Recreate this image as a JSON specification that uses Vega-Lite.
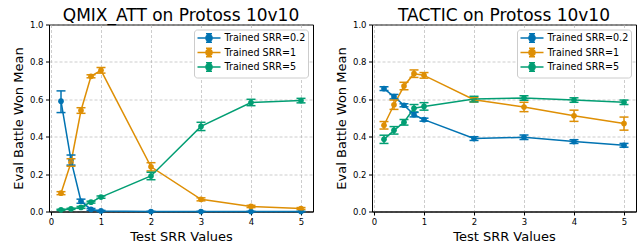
{
  "$schema": "https://vega.github.io/schema/vega-lite/v6.json",
  "padding": {"left": 11, "top": 6.5, "right": 5, "bottom": 0},
  "config": {
    "font": "DejaVu Sans",
    "view": {"stroke": "black", "strokeWidth": 1},
    "concat": {"spacing": 20},
    "axis": {
      "labelFont": "DejaVu Sans", "labelFontSize": 8.5, "labelColor": "black",
      "titleFont": "DejaVu Sans", "titleFontSize": 13, "titleFontWeight": "normal", "titleColor": "black",
      "tickColor": "black", "tickSize": 3.5, "labelPadding": 2.5, "labelOverlap": false, "labelFlush": false,
      "domainColor": "black", "domainWidth": 1,
      "grid": true, "gridColor": "#b0b0b0", "gridDash": [3, 2], "gridOpacity": 0.8, "gridWidth": 0.8
    },
    "axisX": {"titlePadding": 4},
    "axisY": {"titlePadding": 4},
    "title": {"font": "DejaVu Sans", "fontSize": 17, "fontWeight": "normal", "color": "black", "offset": -4.5, "anchor": "middle"},
    "legend": {
      "orient": "top-right", "offset": 5, "labelFont": "DejaVu Sans", "labelFontSize": 9.6, "labelColor": "black",
      "fillColor": "white", "strokeColor": "#cccccc", "cornerRadius": 3, "padding": 2.5,
      "symbolType": "M-1,0L3.6,0M1.3,-0.84L1.3,0.84M0.7,-0.84L1.9,-0.84M0.7,0.84L1.9,0.84M1.9,0A0.6,0.6 0 1,1 0.7,0A0.6,0.6 0 1,1 1.9,0Z",
      "symbolSize": 100, "symbolStrokeWidth": 1.5, "rowPadding": -1.5, "labelOffset": 16
    }
  },
  "datasets": {
    "d": [
      {"model": "QMIX_ATT", "series": "Trained SRR=0.2", "x": 0.2, "m": 0.59, "lo": 0.529, "hi": 0.645},
      {"model": "QMIX_ATT", "series": "Trained SRR=0.2", "x": 0.4, "m": 0.275, "lo": 0.248, "hi": 0.302},
      {"model": "QMIX_ATT", "series": "Trained SRR=0.2", "x": 0.6, "m": 0.055, "lo": 0.044, "hi": 0.066},
      {"model": "QMIX_ATT", "series": "Trained SRR=0.2", "x": 0.8, "m": 0.011, "lo": 0.006, "hi": 0.016},
      {"model": "QMIX_ATT", "series": "Trained SRR=0.2", "x": 1, "m": 0.003, "lo": 0.0, "hi": 0.006},
      {"model": "QMIX_ATT", "series": "Trained SRR=0.2", "x": 2, "m": 0.0, "lo": 0.0, "hi": 0.0},
      {"model": "QMIX_ATT", "series": "Trained SRR=0.2", "x": 3, "m": 0.0, "lo": 0.0, "hi": 0.0},
      {"model": "QMIX_ATT", "series": "Trained SRR=0.2", "x": 4, "m": 0.0, "lo": 0.0, "hi": 0.0},
      {"model": "QMIX_ATT", "series": "Trained SRR=0.2", "x": 5, "m": 0.0, "lo": 0.0, "hi": 0.0},
      {"model": "QMIX_ATT", "series": "Trained SRR=1", "x": 0.2, "m": 0.098, "lo": 0.09, "hi": 0.106},
      {"model": "QMIX_ATT", "series": "Trained SRR=1", "x": 0.4, "m": 0.262, "lo": 0.242, "hi": 0.282},
      {"model": "QMIX_ATT", "series": "Trained SRR=1", "x": 0.6, "m": 0.54, "lo": 0.525, "hi": 0.555},
      {"model": "QMIX_ATT", "series": "Trained SRR=1", "x": 0.8, "m": 0.723, "lo": 0.715, "hi": 0.731},
      {"model": "QMIX_ATT", "series": "Trained SRR=1", "x": 1, "m": 0.755, "lo": 0.74, "hi": 0.77},
      {"model": "QMIX_ATT", "series": "Trained SRR=1", "x": 2, "m": 0.239, "lo": 0.217, "hi": 0.261},
      {"model": "QMIX_ATT", "series": "Trained SRR=1", "x": 3, "m": 0.065, "lo": 0.057, "hi": 0.073},
      {"model": "QMIX_ATT", "series": "Trained SRR=1", "x": 4, "m": 0.027, "lo": 0.021, "hi": 0.033},
      {"model": "QMIX_ATT", "series": "Trained SRR=1", "x": 5, "m": 0.016, "lo": 0.011, "hi": 0.021},
      {"model": "QMIX_ATT", "series": "Trained SRR=5", "x": 0.2, "m": 0.009, "lo": 0.006, "hi": 0.012},
      {"model": "QMIX_ATT", "series": "Trained SRR=5", "x": 0.4, "m": 0.014, "lo": 0.011, "hi": 0.017},
      {"model": "QMIX_ATT", "series": "Trained SRR=5", "x": 0.6, "m": 0.022, "lo": 0.017, "hi": 0.027},
      {"model": "QMIX_ATT", "series": "Trained SRR=5", "x": 0.8, "m": 0.05, "lo": 0.045, "hi": 0.055},
      {"model": "QMIX_ATT", "series": "Trained SRR=5", "x": 1, "m": 0.077, "lo": 0.071, "hi": 0.083},
      {"model": "QMIX_ATT", "series": "Trained SRR=5", "x": 2, "m": 0.19, "lo": 0.17, "hi": 0.21},
      {"model": "QMIX_ATT", "series": "Trained SRR=5", "x": 3, "m": 0.455, "lo": 0.433, "hi": 0.477},
      {"model": "QMIX_ATT", "series": "Trained SRR=5", "x": 4, "m": 0.583, "lo": 0.566, "hi": 0.6},
      {"model": "QMIX_ATT", "series": "Trained SRR=5", "x": 5, "m": 0.593, "lo": 0.581, "hi": 0.605},
      {"model": "TACTIC", "series": "Trained SRR=0.2", "x": 0.2, "m": 0.657, "lo": 0.647, "hi": 0.667},
      {"model": "TACTIC", "series": "Trained SRR=0.2", "x": 0.4, "m": 0.614, "lo": 0.602, "hi": 0.626},
      {"model": "TACTIC", "series": "Trained SRR=0.2", "x": 0.6, "m": 0.568, "lo": 0.56, "hi": 0.576},
      {"model": "TACTIC", "series": "Trained SRR=0.2", "x": 0.8, "m": 0.518, "lo": 0.506, "hi": 0.53},
      {"model": "TACTIC", "series": "Trained SRR=0.2", "x": 1, "m": 0.491, "lo": 0.483, "hi": 0.499},
      {"model": "TACTIC", "series": "Trained SRR=0.2", "x": 2, "m": 0.39, "lo": 0.38, "hi": 0.4},
      {"model": "TACTIC", "series": "Trained SRR=0.2", "x": 3, "m": 0.397, "lo": 0.385, "hi": 0.409},
      {"model": "TACTIC", "series": "Trained SRR=0.2", "x": 4, "m": 0.374, "lo": 0.364, "hi": 0.384},
      {"model": "TACTIC", "series": "Trained SRR=0.2", "x": 5, "m": 0.354, "lo": 0.344, "hi": 0.364},
      {"model": "TACTIC", "series": "Trained SRR=1", "x": 0.2, "m": 0.461, "lo": 0.441, "hi": 0.481},
      {"model": "TACTIC", "series": "Trained SRR=1", "x": 0.4, "m": 0.571, "lo": 0.546, "hi": 0.596},
      {"model": "TACTIC", "series": "Trained SRR=1", "x": 0.6, "m": 0.671, "lo": 0.651, "hi": 0.691},
      {"model": "TACTIC", "series": "Trained SRR=1", "x": 0.8, "m": 0.737, "lo": 0.717, "hi": 0.757},
      {"model": "TACTIC", "series": "Trained SRR=1", "x": 1, "m": 0.728, "lo": 0.713, "hi": 0.743},
      {"model": "TACTIC", "series": "Trained SRR=1", "x": 2, "m": 0.598, "lo": 0.586, "hi": 0.61},
      {"model": "TACTIC", "series": "Trained SRR=1", "x": 3, "m": 0.559, "lo": 0.534, "hi": 0.584},
      {"model": "TACTIC", "series": "Trained SRR=1", "x": 4, "m": 0.512, "lo": 0.482, "hi": 0.542},
      {"model": "TACTIC", "series": "Trained SRR=1", "x": 5, "m": 0.47, "lo": 0.435, "hi": 0.505},
      {"model": "TACTIC", "series": "Trained SRR=5", "x": 0.2, "m": 0.386, "lo": 0.364, "hi": 0.408},
      {"model": "TACTIC", "series": "Trained SRR=5", "x": 0.4, "m": 0.434, "lo": 0.414, "hi": 0.454},
      {"model": "TACTIC", "series": "Trained SRR=5", "x": 0.6, "m": 0.477, "lo": 0.462, "hi": 0.492},
      {"model": "TACTIC", "series": "Trained SRR=5", "x": 0.8, "m": 0.552, "lo": 0.532, "hi": 0.572},
      {"model": "TACTIC", "series": "Trained SRR=5", "x": 1, "m": 0.562, "lo": 0.542, "hi": 0.582},
      {"model": "TACTIC", "series": "Trained SRR=5", "x": 2, "m": 0.601, "lo": 0.586, "hi": 0.616},
      {"model": "TACTIC", "series": "Trained SRR=5", "x": 3, "m": 0.607, "lo": 0.595, "hi": 0.619},
      {"model": "TACTIC", "series": "Trained SRR=5", "x": 4, "m": 0.596, "lo": 0.584, "hi": 0.608},
      {"model": "TACTIC", "series": "Trained SRR=5", "x": 5, "m": 0.584, "lo": 0.572, "hi": 0.596}
    ]
  },
  "resolve": {"scale": {"color": "independent"}},
  "hconcat": [
    {
      "title": "QMIX_ATT on Protoss 10v10",
      "width": 264, "height": 187,
      "data": {"name": "d"},
      "transform": [{"filter": "datum.model === 'QMIX_ATT'"}],
      "encoding": {
        "x": {"field": "x", "type": "quantitative", "scale": {"domain": [-0.04, 5.24], "nice": false, "zero": false}, "axis": {"title": "Test SRR Values", "values": [0, 1, 2, 3, 4, 5], "format": "d"}},
        "y": {"field": "m", "type": "quantitative", "scale": {"domain": [0, 1], "nice": false}, "axis": {"title": "Eval Battle Won Mean", "values": [0, 0.2, 0.4, 0.6, 0.8, 1], "format": ".1f", "labelOverlap": false, "tickCount": 6}},
        "color": {"field": "series", "type": "nominal", "scale": {"domain": ["Trained SRR=0.2", "Trained SRR=1", "Trained SRR=5"], "range": ["#0173b2", "#de8f05", "#029e73"]}, "legend": {"title": null}}
      },
      "layer": [
        {"mark": {"type": "point", "filled": true, "size": 32, "opacity": 1}},
        {"mark": {"type": "line", "strokeWidth": 1.5}},
        {"mark": {"type": "rule", "strokeWidth": 1.5}, "encoding": {"y": {"field": "lo", "type": "quantitative", "axis": {"title": "Eval Battle Won Mean", "values": [0, 0.2, 0.4, 0.6, 0.8, 1], "format": ".1f", "labelOverlap": false, "tickCount": 6}}, "y2": {"field": "hi"}}},
        {"mark": {"type": "tick", "orient": "horizontal", "size": 9, "thickness": 1.5, "opacity": 1}, "encoding": {"y": {"field": "lo", "type": "quantitative", "axis": {"title": "Eval Battle Won Mean", "values": [0, 0.2, 0.4, 0.6, 0.8, 1], "format": ".1f", "labelOverlap": false, "tickCount": 6}}}},
        {"mark": {"type": "tick", "orient": "horizontal", "size": 9, "thickness": 1.5, "opacity": 1}, "encoding": {"y": {"field": "hi", "type": "quantitative", "axis": {"title": "Eval Battle Won Mean", "values": [0, 0.2, 0.4, 0.6, 0.8, 1], "format": ".1f", "labelOverlap": false, "tickCount": 6}}}}
      ]
    },
    {
      "title": "TACTIC on Protoss 10v10",
      "width": 264, "height": 187,
      "data": {"name": "d"},
      "transform": [{"filter": "datum.model === 'TACTIC'"}],
      "encoding": {
        "x": {"field": "x", "type": "quantitative", "scale": {"domain": [-0.04, 5.24], "nice": false, "zero": false}, "axis": {"title": "Test SRR Values", "values": [0, 1, 2, 3, 4, 5], "format": "d"}},
        "y": {"field": "m", "type": "quantitative", "scale": {"domain": [0, 1], "nice": false}, "axis": {"title": "Eval Battle Won Mean", "values": [0, 0.2, 0.4, 0.6, 0.8, 1], "format": ".1f", "labelOverlap": false, "tickCount": 6}},
        "color": {"field": "series", "type": "nominal", "scale": {"domain": ["Trained SRR=0.2", "Trained SRR=1", "Trained SRR=5"], "range": ["#0173b2", "#de8f05", "#029e73"]}, "legend": {"title": null}}
      },
      "layer": [
        {"mark": {"type": "point", "filled": true, "size": 32, "opacity": 1}},
        {"mark": {"type": "line", "strokeWidth": 1.5}},
        {"mark": {"type": "rule", "strokeWidth": 1.5}, "encoding": {"y": {"field": "lo", "type": "quantitative", "axis": {"title": "Eval Battle Won Mean", "values": [0, 0.2, 0.4, 0.6, 0.8, 1], "format": ".1f", "labelOverlap": false, "tickCount": 6}}, "y2": {"field": "hi"}}},
        {"mark": {"type": "tick", "orient": "horizontal", "size": 9, "thickness": 1.5, "opacity": 1}, "encoding": {"y": {"field": "lo", "type": "quantitative", "axis": {"title": "Eval Battle Won Mean", "values": [0, 0.2, 0.4, 0.6, 0.8, 1], "format": ".1f", "labelOverlap": false, "tickCount": 6}}}},
        {"mark": {"type": "tick", "orient": "horizontal", "size": 9, "thickness": 1.5, "opacity": 1}, "encoding": {"y": {"field": "hi", "type": "quantitative", "axis": {"title": "Eval Battle Won Mean", "values": [0, 0.2, 0.4, 0.6, 0.8, 1], "format": ".1f", "labelOverlap": false, "tickCount": 6}}}}
      ]
    }
  ]
}
